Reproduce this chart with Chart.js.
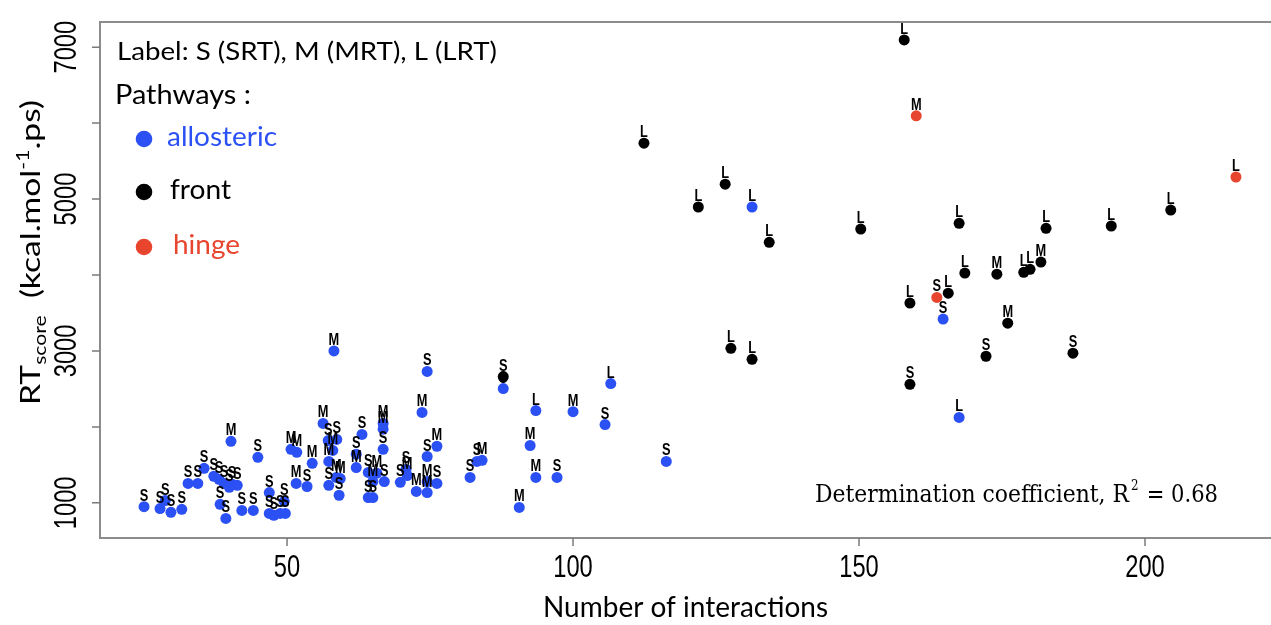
<!DOCTYPE html>
<html>
<head>
<meta charset="utf-8">
<script src="https://cdn.jsdelivr.net/npm/chart.js@4/dist/chart.umd.min.js"></script>
<style>
  html, body { margin: 0; padding: 0; background: #fff; overflow: hidden; }
  #wrap { width: 1271px; height: 625px; overflow: hidden; }
</style>
</head>
<body>
<div id="wrap"><canvas id="c" width="1300" height="625" style="width:1300px;height:625px"></canvas></div>
<script>
// Number of interactions vs RT score, one series per pathway.
// Each point carries its residence-time class tag (S / M / L).

const allostericX = [25.0, 27.8, 28.7, 29.7, 31.6, 32.7, 34.4, 35.5, 40.2, 37.2, 38.1, 39.0, 39.9, 40.4, 41.3,
  38.3, 39.3, 42.1, 44.1, 44.9, 46.9, 46.9, 47.7, 48.8, 49.7, 49.5, 50.7, 51.7, 54.4, 51.6, 53.5,
  56.3, 57.2, 58.7, 58.0, 57.3, 57.3, 58.6, 59.3, 59.1, 58.2, 63.1, 62.1, 62.1, 66.8, 66.8, 66.8,
  64.2, 65.7, 67.0, 65.0, 64.2, 65.0, 69.8, 70.8, 71.0, 72.6, 74.5, 74.5, 76.2, 74.5, 76.2, 73.6,
  74.5, 82.0, 83.2, 84.1, 87.8, 93.5, 100.0, 105.6, 106.6, 92.5, 93.5, 97.2, 90.6, 116.3, 131.3,
  164.7, 167.5];
const allostericY = [950, 925, 1030, 875, 915, 1255, 1255, 1455, 1810, 1350, 1310, 1255, 1205, 1245, 1230,
  980, 795, 900, 900, 1600, 1135, 860, 835, 860, 860, 1020, 1705, 1665, 1520, 1255, 1215,
  2045, 1820, 1835, 1690, 1545, 1230, 1335, 1320, 1100, 3000, 1900, 1640, 1465, 2045, 1970, 1705,
  1400, 1390, 1280, 1280, 1070, 1070, 1270, 1440, 1360, 1150, 1135, 1280, 1255, 1610, 1745, 2190,
  2730, 1335, 1545, 1560, 2505, 2215, 2200, 2030, 2570, 1755, 1335, 1335, 940, 1545, 4895,
  3420, 2125];
const allostericTag = ['S','S','S','S','S','S','S','S','M','S','S','S','S','S','S',
  'S','S','S','S','S','S','S','S','S','S','S','M','M','M','M','S',
  'M','S','S','M','M','S','M','M','S','M','S','S','M','M','M','S',
  'S','M','S','M','S','S','S','S','M','M','M','M','S','S','M','M',
  'S','S','S','M','S','L','M','S','L','M','M','S','M','S','L',
  'S','L'];

const frontX = [87.8, 112.4, 121.9, 126.6, 134.3, 127.6, 131.3, 150.3, 157.9, 167.5, 182.7, 194.1,
  204.5, 168.5, 174.1, 178.8, 179.9, 181.8, 158.9, 165.6, 176.0, 172.2, 187.4, 158.9];
const frontY = [2660, 5735, 4895, 5195, 4430, 3035, 2890, 4605, 7095, 4680, 4615, 4645,
  4855, 4025, 4010, 4035, 4075, 4170, 3630, 3760, 3365, 2930, 2970, 2560];
const frontTag = ['S','L','L','L','L','L','L','L','L','L','L','L',
  'L','L','M','L','L','M','L','L','M','S','S','S'];

const hingeX = [160.0, 215.9, 163.6];
const hingeY = [6095, 5290, 3705];
const hingeTag = ['M', 'L', 'S'];

const xTicks = [50, 100, 150, 200];
const yTicks = [1000, 2000, 3000, 4000, 5000, 6000, 7000];
const yTickLabels = [1000, 3000, 5000, 7000];

const BLUE = '#2b50f4';
const BLACK = '#000000';
const RED = '#e8452f';

const toPoints = (xs, ys) => xs.map((x, i) => ({ x: x, y: ys[i] }));

// text helper: optional horizontal squeeze (sx), rotation, or fit to a given width
function drawText(ctx, str, x, y, o) {
  ctx.save();
  ctx.translate(x, y);
  if (o.rotate) ctx.rotate(o.rotate);
  ctx.font = o.font;
  let sx = o.sx || 1;
  if (o.width) sx = o.width / ctx.measureText(str).width;
  ctx.scale(sx, 1);
  ctx.fillStyle = o.color || '#000';
  ctx.textAlign = o.align || 'left';
  ctx.textBaseline = 'alphabetic';
  ctx.fillText(str, 0, 0);
  ctx.restore();
}

const decorations = {
  id: 'decorations',
  afterDatasetsDraw(chart) {
    const ctx = chart.ctx;
    const tagSets = [frontTag, hingeTag, allostericTag];
    // class tags above every point
    chart.data.datasets.forEach((ds, di) => {
      const meta = chart.getDatasetMeta(di);
      meta.data.forEach((el, i) => {
        drawText(ctx, tagSets[di][i], el.x, el.y - 6, {
          font: 'bold 16px "Liberation Sans"', sx: 0.8, align: 'center', color: '#000'
        });
      });
    });
  },
  afterDraw(chart) {
    const ctx = chart.ctx;
    const a = chart.chartArea;
    const xs = chart.scales.x, ys = chart.scales.y;
    const W = chart.width;

    // plot frame (open on the right, where it runs past the page)
    ctx.save();
    ctx.strokeStyle = '#8c8c8c';
    ctx.lineWidth = 2;
    ctx.beginPath();
    ctx.moveTo(W, a.top); ctx.lineTo(a.left, a.top);
    ctx.lineTo(a.left, a.bottom); ctx.lineTo(W, a.bottom);
    ctx.stroke();

    // tick marks
    ctx.strokeStyle = '#7a7a7a';
    ctx.lineWidth = 1.5;
    ctx.beginPath();
    yTicks.forEach(v => {
      const p = ys.getPixelForValue(v);
      ctx.moveTo(a.left - 8, p); ctx.lineTo(a.left, p);
    });
    xTicks.forEach(v => {
      const p = xs.getPixelForValue(v);
      ctx.moveTo(p, a.bottom); ctx.lineTo(p, a.bottom + 8);
    });
    ctx.stroke();
    ctx.restore();

    // tick labels
    xTicks.forEach(v => {
      drawText(ctx, String(v), xs.getPixelForValue(v), 577, {
        font: '32px "Liberation Sans"', sx: 0.74, align: 'center'
      });
    });
    yTickLabels.forEach(v => {
      drawText(ctx, String(v), 76, ys.getPixelForValue(v), {
        font: '32px "Liberation Sans"', sx: 0.74, align: 'center', rotate: -Math.PI / 2
      });
    });

    // axis titles
    drawText(ctx, 'Number of interactions', 543, 617, { font: '28px Lato', width: 285 });

    // y title with subscript / superscript, reading bottom-to-top
    ctx.save();
    ctx.translate(40, 405);
    ctx.rotate(-Math.PI / 2);
    const big = '27px Lato', small = '17px Lato';
    const parts = [
      { t: 'RT', f: big, dy: 0 },
      { t: 'score', f: small, dy: 6 },
      { t: '  (kcal.mol', f: big, dy: 0 },
      { t: '-1', f: small, dy: -11 },
      { t: '.ps)', f: big, dy: 0 }
    ];
    let total = 0;
    parts.forEach(p => { ctx.font = p.f; p.w = ctx.measureText(p.t).width; total += p.w; });
    ctx.scale(305 / total, 1);
    ctx.fillStyle = '#000';
    ctx.textBaseline = 'alphabetic';
    let cx = 0;
    parts.forEach(p => { ctx.font = p.f; ctx.fillText(p.t, cx, p.dy); cx += p.w; });
    ctx.restore();

    // key
    drawText(ctx, 'Label: S (SRT), M (MRT), L (LRT)', 117, 60, { font: '25px Lato', width: 380 });
    drawText(ctx, 'Pathways :', 115, 104, { font: '26px Lato', width: 136 });
    const keys = [
      { t: 'allosteric', c: BLUE, y: 139, tx: 167, w: 110 },
      { t: 'front', c: BLACK, y: 192, tx: 170, w: 61 },
      { t: 'hinge', c: RED, y: 247, tx: 173, w: 67 }
    ];
    keys.forEach(k => {
      ctx.beginPath();
      ctx.arc(144, k.y, 8.3, 0, Math.PI * 2);
      ctx.fillStyle = k.c;
      ctx.fill();
      drawText(ctx, k.t, k.tx, k.y + 7, { font: '26px Lato', width: k.w, color: k.c });
    });

    // fit statistic
    drawText(ctx, 'Determination coefficient, R', 815, 502, { font: '24px "DejaVu Serif"', width: 314 });
    drawText(ctx, '2', 1131, 490, { font: '14px "DejaVu Serif"', sx: 0.85 });
    drawText(ctx, ' = 0.68', 1140, 502, { font: '24px "DejaVu Serif"', width: 78 });
  }
};

new Chart(document.getElementById('c'), {
  type: 'scatter',
  data: {
    datasets: [
      { label: 'front', data: toPoints(frontX, frontY), backgroundColor: BLACK },
      { label: 'hinge', data: toPoints(hingeX, hingeY), backgroundColor: RED },
      { label: 'allosteric', data: toPoints(allostericX, allostericY), backgroundColor: BLUE }
    ].map(d => Object.assign(d, { pointRadius: 5.5, pointHoverRadius: 5.5, pointBorderWidth: 0, borderWidth: 0 }))
  },
  options: {
    responsive: false,
    animation: false,
    events: [],
    layout: { padding: { left: 100, right: 20, top: 22, bottom: 87 } },
    scales: {
      x: { type: 'linear', min: 17.3, max: 223.6, display: false },
      y: { type: 'linear', min: 537, max: 7331, display: false }
    },
    plugins: { legend: { display: false }, tooltip: { enabled: false } }
  },
  plugins: [decorations]
});
</script>
</body>
</html>
